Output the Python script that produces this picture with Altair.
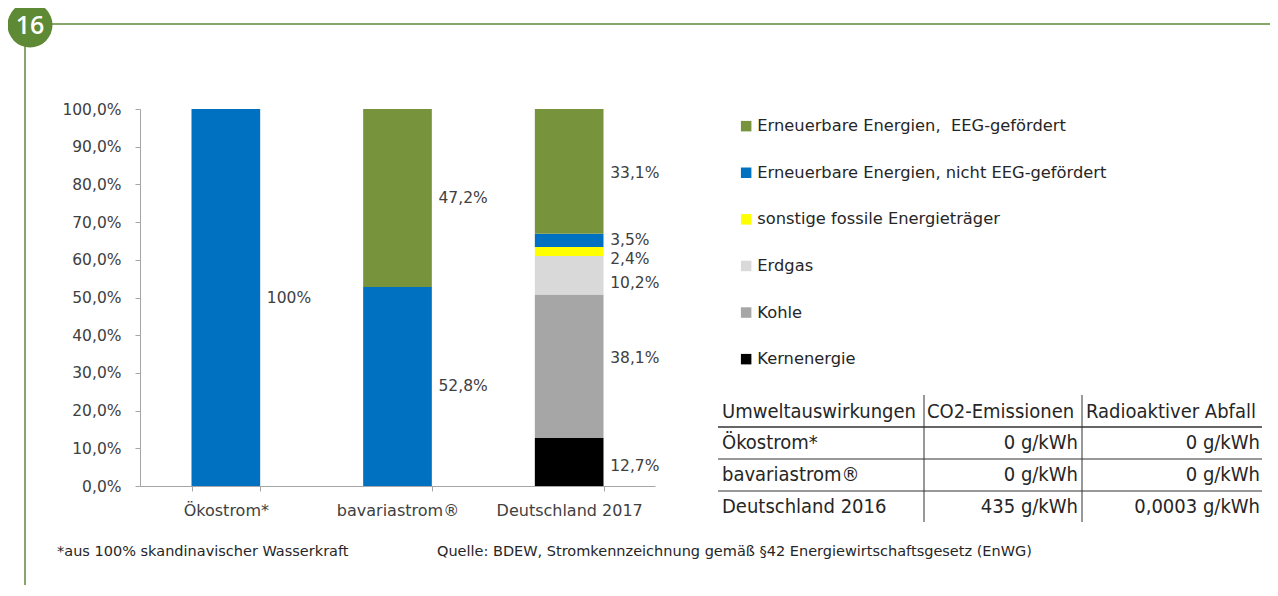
import altair as alt
import pandas as pd

# ---------------- data ----------------
categories = ["Ökostrom*", "bavariastrom®", "Deutschland 2017"]
# stack order: bottom -> top
sources = [
    "Kernenergie",
    "Kohle",
    "Erdgas",
    "sonstige fossile Energieträger",
    "Erneuerbare Energien, nicht EEG-gefördert",
    "Erneuerbare Energien,\u00a0 EEG-gefördert",
]
colors = ["#000000", "#a6a6a6", "#d9d9d9", "#ffff00", "#0070c0", "#77933c"]
oekostrom = [0, 0, 0, 0, 100, 0]
bavariastrom = [0, 0, 0, 0, 52.8, 47.2]
deutschland = [12.7, 38.1, 10.2, 2.4, 3.5, 33.1]
labels_oeko = ["", "", "", "", "100%", ""]
labels_bav = ["", "", "", "", "52,8%", "47,2%"]
labels_de = ["12,7%", "38,1%", "10,2%", "2,4%", "3,5%", "33,1%"]

y_ticks = [0, 10, 20, 30, 40, 50, 60, 70, 80, 90, 100]

table_header = ["Umweltauswirkungen", "CO2-Emissionen", "Radioaktiver Abfall"]
table_rows = ["Ökostrom*", "bavariastrom®", "Deutschland 2016"]
table_co2 = ["0 g/kWh", "0 g/kWh", "435 g/kWh"]
table_waste = ["0 g/kWh", "0 g/kWh", "0,0003 g/kWh"]

footnote = "*aus 100% skandinavischer Wasserkraft"
source_note = "Quelle: BDEW, Stromkennzeichnung gemäß §42 Energiewirtschaftsgesetz (EnWG)"
page_number = "16"

# ---------------- build table ----------------
rows = []
for cat, vals, labs in [
    (categories[0], oekostrom, labels_oeko),
    (categories[1], bavariastrom, labels_bav),
    (categories[2], deutschland, labels_de),
]:
    cum = 0.0
    for i, (s, v, l) in enumerate(zip(sources, vals, labs)):
        if v > 0:
            rows.append({"cat": cat, "source": s, "value": v, "idx": i,
                         "mid": cum + v / 2, "label": l})
        cum += v
df = pd.DataFrame(rows)

legend_order = sources[::-1]
legend_colors = colors[::-1]

GREEN = "#5e8a35"
TXT = "#262626"
AXC = "#404040"
AX_FONT = "DejaVu Sans"

x_axis = alt.Axis(labelAngle=0, labelFont=AX_FONT, labelFontSize=16,
                  labelColor=AXC, labelPadding=11, tickBand="extent",
                  tickSize=5, tickColor="#a6a6a6", domainColor="#a6a6a6")
x_scale = alt.Scale(paddingInner=0.6, paddingOuter=0.3)
y_axis = alt.Axis(values=y_ticks, grid=False, labelOverlap=False,
                  labelExpr="replace(format(datum.value, '.1f'), '.', ',') + '%'",
                  labelFont=AX_FONT, labelFontSize=15.5, labelColor=AXC,
                  tickSize=5, tickColor="#a6a6a6", domainColor="#a6a6a6",
                  labelPadding=14)
y_scale = alt.Scale(domain=[0, 100])

bars = alt.Chart(df).mark_bar().encode(
    x=alt.X("cat:N", sort=categories, title=None, scale=x_scale, axis=x_axis),
    y=alt.Y("value:Q", stack="zero", scale=y_scale, title=None, axis=y_axis),
    color=alt.Color("source:N",
                    scale=alt.Scale(domain=legend_order, range=legend_colors),
                    legend=alt.Legend(orient="none", legendX=598, legendY=9,
                                      title=None, symbolType="square",
                                      symbolSize=110, symbolStrokeWidth=0,
                                      symbolOpacity=1,
                                      labelFont="DejaVu Sans", labelFontSize=16.3,
                                      labelColor=TXT, labelLimit=600,
                                      rowPadding=29.6, labelOffset=3)),
    order=alt.Order("idx:Q"),
)

# value labels (vertical nudges for crowded labels are in pixels)
nudge = {"2,4%": 7, "10,2%": 8, "38,1%": -8, "12,7%": 4, "33,1%": 2}
label_layers = []
for _, r in df.iterrows():
    if not r["label"]:
        continue
    label_layers.append(
        alt.Chart(pd.DataFrame([r])).mark_text(
            align="left", baseline="middle", dx=41, dy=nudge.get(r["label"], 0),
            font=AX_FONT, fontSize=15.5, color=AXC,
        ).encode(x=alt.X("cat:N", sort=categories, title=None, scale=x_scale, axis=x_axis),
                 y=alt.Y("mid:Q", scale=y_scale, title=None, axis=y_axis),
                 text="label:N")
    )


def txt(s, x, y, align="left", size=20, font="DejaVu Sans Condensed",
        color=TXT, weight="normal"):
    return alt.Chart(pd.DataFrame({"t": [s]})).mark_text(
        align=align, baseline="middle", fontSize=size, font=font,
        color=color, fontWeight=weight,
    ).encode(x=alt.value(x), y=alt.value(y), text="t:N")


def hline(x1, x2, y, color="#333333", w=1.0):
    return alt.Chart(pd.DataFrame({"a": [0]})).mark_rule(
        color=color, strokeWidth=w).encode(
        x=alt.value(x1), x2=alt.value(x2), y=alt.value(y))


def vline(x, y1, y2, color="#333333", w=1.0):
    return alt.Chart(pd.DataFrame({"a": [0]})).mark_rule(
        color=color, strokeWidth=w).encode(
        x=alt.value(x), y=alt.value(y1), y2=alt.value(y2))


# coordinates relative to plot origin (page x-140, y-109)
OX, OY = 140, 109
T = []
# table
hy = 412 - OY
row_y = [443 - OY, 475 - OY, 507 - OY]
T.append(txt(table_header[0], 722 - OX, hy))
T.append(txt(table_header[1], 927 - OX, hy))
T.append(txt(table_header[2], 1086 - OX, hy))
for i in range(3):
    T.append(txt(table_rows[i], 722 - OX, row_y[i]))
    T.append(txt(table_co2[i], 1078 - OX, row_y[i], align="right"))
    T.append(txt(table_waste[i], 1260 - OX, row_y[i], align="right"))
T.append(hline(718 - OX, 1262 - OX, 427 - OY, w=1.5))
T.append(hline(718 - OX, 1262 - OX, 459 - OY))
T.append(hline(718 - OX, 1262 - OX, 491 - OY))
T.append(vline(924 - OX, 395 - OY, 522 - OY))
T.append(vline(1082 - OX, 395 - OY, 522 - OY))

# footnotes
T.append(txt(footnote, 57 - OX, 552 - OY, size=14.5, font="DejaVu Sans"))
T.append(txt(source_note, 437 - OX, 552 - OY, size=14.5, font="DejaVu Sans"))

# page decoration
T.append(hline(50 - OX, 1280 - OX, 24 - OY, color=GREEN, w=1.5))
T.append(vline(25 - OX, 40 - OY, 600 - OY, color=GREEN, w=1.5))
circle = alt.Chart(pd.DataFrame({"a": [0]})).mark_point(
    shape="circle", filled=True, color=GREEN, opacity=1, size=2025).encode(
    x=alt.value(30 - OX), y=alt.value(25 - OY))
T.append(circle)
T.append(txt(page_number, 30 - OX, 26 - OY, align="center", size=25,
             font="Open Sans", color="white", weight=600))

chart = alt.layer(bars, *label_layers, *T).properties(
    width=515, height=377,
    autosize=alt.AutoSizeParams(type="none"),
    padding={"left": OX - 8, "top": OY - 8, "right": 1262 - (OX - 8) - 515,
             "bottom": 99},
).configure_view(stroke=None)

chart.save("out.html", embed_options={"renderer": "svg", "actions": False})
